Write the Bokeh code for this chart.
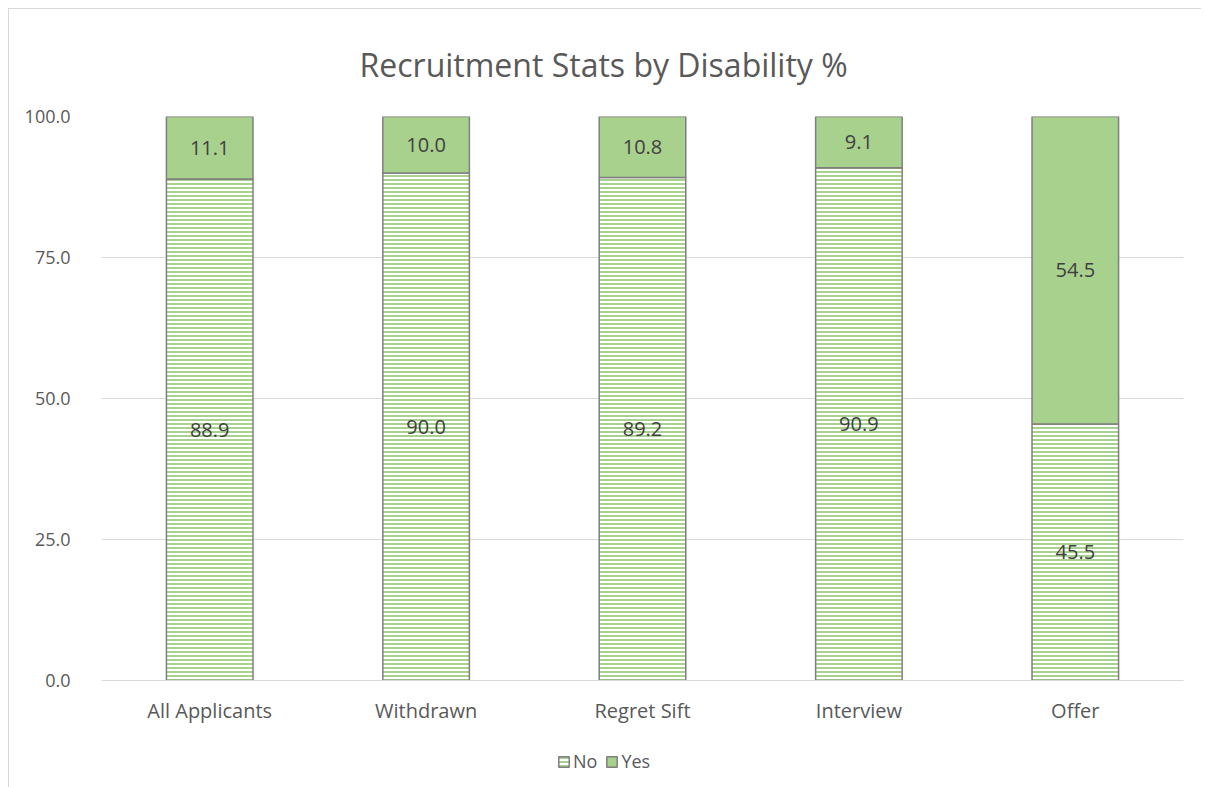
from bokeh.plotting import figure
from bokeh.layouts import column
from bokeh.models import (ColumnDataSource, Legend, LegendItem, LabelSet, FixedTicker,
                          CustomJSTickFormatter)
from bokeh.embed import file_html
from bokeh.resources import INLINE
from bokeh.core.properties import value

categories = ["All Applicants", "Withdrawn", "Regret Sift", "Interview", "Offer"]
no_vals = [88.9, 90.0, 89.2, 90.9, 45.5]
yes_vals = [11.1, 10.0, 10.8, 9.1, 54.5]
y_ticks = [0, 25, 50, 75, 100]
series_names = ["No", "Yes"]

FONT = "Open Sans"
GREEN = "#a9d18e"
EDGE = "#7f7f7f"
src = ColumnDataSource(dict(
    cat=categories,
    no=no_vals,
    yes=yes_vals,
    top=[a + b for a, b in zip(no_vals, yes_vals)],
    no_mid=[a / 2 for a in no_vals],
    yes_mid=[a + b / 2 for a, b in zip(no_vals, yes_vals)],
    no_lbl=[f"{v:.1f}" for v in no_vals],
    yes_lbl=[f"{v:.1f}" for v in yes_vals],
))

no_style = dict(fill_color="white", hatch_pattern="horizontal_line", hatch_color=GREEN,
                hatch_scale=4, hatch_weight=2, line_color=EDGE, line_width=1.5)
yes_style = dict(fill_color=GREEN, line_color=EDGE, line_width=1.5)

p = figure(x_range=categories, y_range=(0, 100),
           frame_width=1082, frame_height=564,
           output_backend="svg", toolbar_location=None,
           title="Recruitment Stats by Disability %",
           min_border_left=92, min_border_right=18, min_border_top=88, min_border_bottom=50)

p.title.align = "left"
p.title.text_font = FONT
p.title.text_font_style = "normal"
p.title.text_font_size = "32px"
p.title.text_color = "#595959"
p.title.offset = 258
p.title.standoff = 62

p.vbar(x="cat", bottom=0, top="no", width=0.4, source=src, **no_style)
p.vbar(x="cat", bottom="no", top="top", width=0.4, source=src, **yes_style)

for y, t in (("no_mid", "no_lbl"), ("yes_mid", "yes_lbl")):
    p.add_layout(LabelSet(x="cat", y=y, text=t, source=src, text_align="center",
                          text_baseline="middle", text_font=value(FONT),
                          text_font_size="20px", text_color="#404040"))

p.outline_line_color = None
p.xgrid.grid_line_color = None
p.ygrid.grid_line_color = "#d9d9d9"
p.ygrid.grid_line_width = 1
p.yaxis.ticker = FixedTicker(ticks=y_ticks)
p.yaxis.formatter = CustomJSTickFormatter(code="return tick.toFixed(1);")
p.yaxis.axis_line_color = None
p.yaxis.major_tick_line_color = None
p.yaxis.minor_tick_line_color = None
p.yaxis.major_label_text_font = FONT
p.yaxis.major_label_text_font_size = "18px"
p.yaxis.major_label_text_color = "#595959"
p.yaxis.major_label_standoff = 25

p.xaxis.axis_line_color = "#d9d9d9"
p.xaxis.major_tick_line_color = None
p.xaxis.minor_tick_line_color = None
p.xaxis.major_label_text_font = FONT
p.xaxis.major_label_text_font_size = "20px"
p.xaxis.major_label_text_color = "#595959"
p.xaxis.major_label_standoff = 10

# legend strip below the chart (its zero-width bars lie outside its visible range)
lg = figure(width=1192, height=58, x_range=categories, y_range=(200, 201),
            output_backend="svg", toolbar_location=None,
            min_border_left=0, min_border_right=0, min_border_top=0, min_border_bottom=0)
lg.axis.visible = False
lg.grid.visible = False
lg.outline_line_color = None
r_no = lg.vbar(x="cat", top="no", width=0, source=src, **no_style)
r_yes = lg.vbar(x="cat", bottom="no", top="top", width=0, source=src, **yes_style)
legend = Legend(items=[LegendItem(label=series_names[0], renderers=[r_no]),
                       LegendItem(label=series_names[1], renderers=[r_yes])],
                orientation="horizontal", location=(456, 15),
                label_text_font=FONT, label_text_font_size="18px",
                label_text_color="#595959", glyph_width=13, glyph_height=13,
                label_standoff=3, spacing=8, border_line_color=None,
                background_fill_alpha=0, padding=0, margin=0)
lg.add_layout(legend, "center")

page = column(p, lg, spacing=0,
              styles={"margin-left": "8px", "margin-top": "8px",
                      "border-left": "1px solid #d9d9d9", "border-top": "1px solid #d9d9d9"})

open("out.html", "w").write(file_html(page, INLINE))
